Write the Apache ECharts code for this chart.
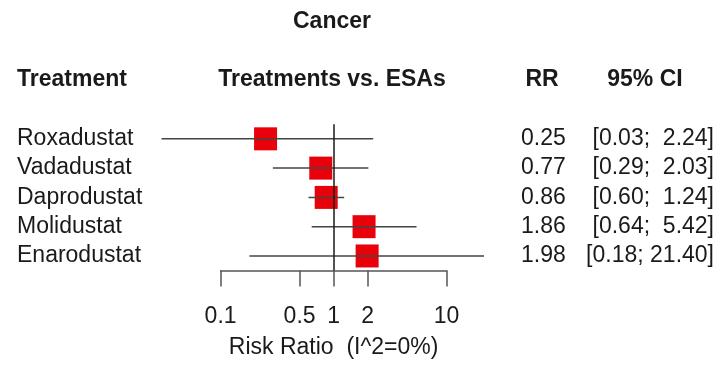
<!DOCTYPE html>
<html>
<head>
<meta charset="utf-8">
<script src="https://cdn.jsdelivr.net/npm/echarts@6/dist/echarts.min.js"></script>
<style>html,body{margin:0;padding:0;background:#fff}#c{width:718px;height:372px}</style>
</head>
<body>
<div id="c"></div>
<script>
const chartTitle = 'Cancer';
const headers = ['Treatment', 'Treatments vs. ESAs', 'RR', '95% CI'];
const treatments = ['Roxadustat', 'Vadadustat', 'Daprodustat', 'Molidustat', 'Enarodustat'];
const rr = [0.25, 0.77, 0.86, 1.86, 1.98];
const ciLow = [0.03, 0.29, 0.60, 0.64, 0.18];
const ciHigh = [2.24, 2.03, 1.24, 5.42, 21.40];
const tickValues = [0.1, 0.5, 1, 2, 10];
const axisTitle = 'Risk Ratio  (I^2=0%)';

const FONT = '"Liberation Sans", Arial, sans-serif';
const FS = 23;

// layout
const pxPerDecade = 113, x1 = 333.6;
const dataMin = 0.01, dataMax = 30;
const gLeft = x1 + pxPerDecade * Math.log10(dataMin);
const gRight = x1 + pxPerDecade * Math.log10(dataMax);
const axLeft = x1 + pxPerDecade * Math.log10(tickValues[0]);
const axRight = x1 + pxPerDecade * Math.log10(tickValues[tickValues.length - 1]);
const gTop = 124.2, gBottom = 270.6;

function fmtCI(lo, hi) {
  let h = hi.toFixed(2);
  while (h.length < 5) h = ' ' + h;
  return '[' + lo.toFixed(2) + ';' + ' ' + h + ']';
}

const ciData = treatments.map((t, i) => [ciLow[i], i, ciHigh[i]]);
const ptData = treatments.map((t, i) => [rr[i], i]);

const chart = echarts.init(document.getElementById('c'));
chart.setOption({
  animation: false,
  backgroundColor: '#fff',
  textStyle: { fontFamily: FONT },
  grid: [
    { left: gLeft, top: gTop, width: gRight - gLeft, height: gBottom - gTop, outerBoundsMode: 'none', containLabel: false },
    { left: axLeft, top: gBottom - 1, width: axRight - axLeft, height: 1, outerBoundsMode: 'none', containLabel: false }
  ],
  xAxis: [
    { gridIndex: 0, type: 'log', min: dataMin, max: dataMax, show: false },
    {
      gridIndex: 1, type: 'log', min: tickValues[0], max: tickValues[tickValues.length - 1],
      position: 'bottom',
      axisLine: { show: true, lineStyle: { color: '#555', width: 1.5 } },
      axisTick: { show: true, length: 16, customValues: tickValues, lineStyle: { color: '#555', width: 1.5 } },
      splitLine: { show: false },
      axisLabel: {
        customValues: tickValues, margin: 46, verticalAlign: 'middle',
        fontFamily: FONT, fontSize: FS, color: '#1a1a1a', hideOverlap: false,
        formatter: v => String(v)
      },
      name: axisTitle, nameLocation: 'middle', nameGap: 77,
      nameTextStyle: { fontFamily: FONT, fontSize: FS, color: '#1a1a1a', verticalAlign: 'middle' }
    }
  ],
  yAxis: [
    {
      gridIndex: 0, type: 'category', data: treatments, inverse: true, position: 'left',
      axisLine: { show: false }, axisTick: { show: false }, splitLine: { show: false },
      axisLabel: { interval: 0, hideOverlap: false, align: 'left', margin: gLeft - 17, fontFamily: FONT, fontSize: FS, color: '#1a1a1a', verticalAlign: 'middle' }
    },
    {
      gridIndex: 0, type: 'category', data: treatments, inverse: true, position: 'right',
      axisLine: { show: false }, axisTick: { show: false }, splitLine: { show: false },
      axisLabel: {
        interval: 0, hideOverlap: false,
        align: 'left', margin: 521 - gRight, verticalAlign: 'middle',
        formatter: (v, i) => '{rr|' + rr[i].toFixed(2) + '}{ci|' + fmtCI(ciLow[i], ciHigh[i]) + '}',
        rich: {
          rr: { width: 60, align: 'left', fontFamily: FONT, fontSize: FS, color: '#1a1a1a' },
          ci: { width: 133, align: 'right', fontFamily: FONT, fontSize: FS, color: '#1a1a1a' }
        }
      }
    },
    { gridIndex: 1, type: 'value', show: false }
  ],
  graphic: [
    { type: 'text', x: 332, y: 22, style: { text: chartTitle, font: 'bold ' + FS + 'px ' + FONT, fill: '#1a1a1a', align: 'center', verticalAlign: 'middle' } },
    { type: 'text', x: 17, y: 80, style: { text: headers[0], font: 'bold ' + FS + 'px ' + FONT, fill: '#1a1a1a', align: 'left', verticalAlign: 'middle' } },
    { type: 'text', x: 332, y: 80, style: { text: headers[1], font: 'bold ' + FS + 'px ' + FONT, fill: '#1a1a1a', align: 'center', verticalAlign: 'middle' } },
    { type: 'text', x: 542, y: 80, style: { text: headers[2], font: 'bold ' + FS + 'px ' + FONT, fill: '#1a1a1a', align: 'center', verticalAlign: 'middle' } },
    { type: 'text', x: 645, y: 80, style: { text: headers[3], font: 'bold ' + FS + 'px ' + FONT, fill: '#1a1a1a', align: 'center', verticalAlign: 'middle' } }
  ],
  series: [
    {
      type: 'scatter', xAxisIndex: 0, yAxisIndex: 0, data: ptData,
      symbol: 'rect', symbolSize: 23, itemStyle: { color: '#e8000a', opacity: 1 }, z: 2,
      markLine: {
        silent: true, symbol: 'none', label: { show: false },
        lineStyle: { color: '#1a1a1a', width: 1.5, type: 'solid' },
        data: [{ xAxis: 1 }]
      }
    },
    {
      type: 'custom', xAxisIndex: 0, yAxisIndex: 0, data: ciData, z: 3,
      renderItem: function (params, api) {
        const p0 = api.coord([api.value(0), api.value(1)]);
        const p1 = api.coord([api.value(2), api.value(1)]);
        return { type: 'line', shape: { x1: p0[0], y1: p0[1], x2: p1[0], y2: p1[1] }, style: { stroke: '#444', lineWidth: 1.5 } };
      }
    }
  ]
});
</script>
</body>
</html>
